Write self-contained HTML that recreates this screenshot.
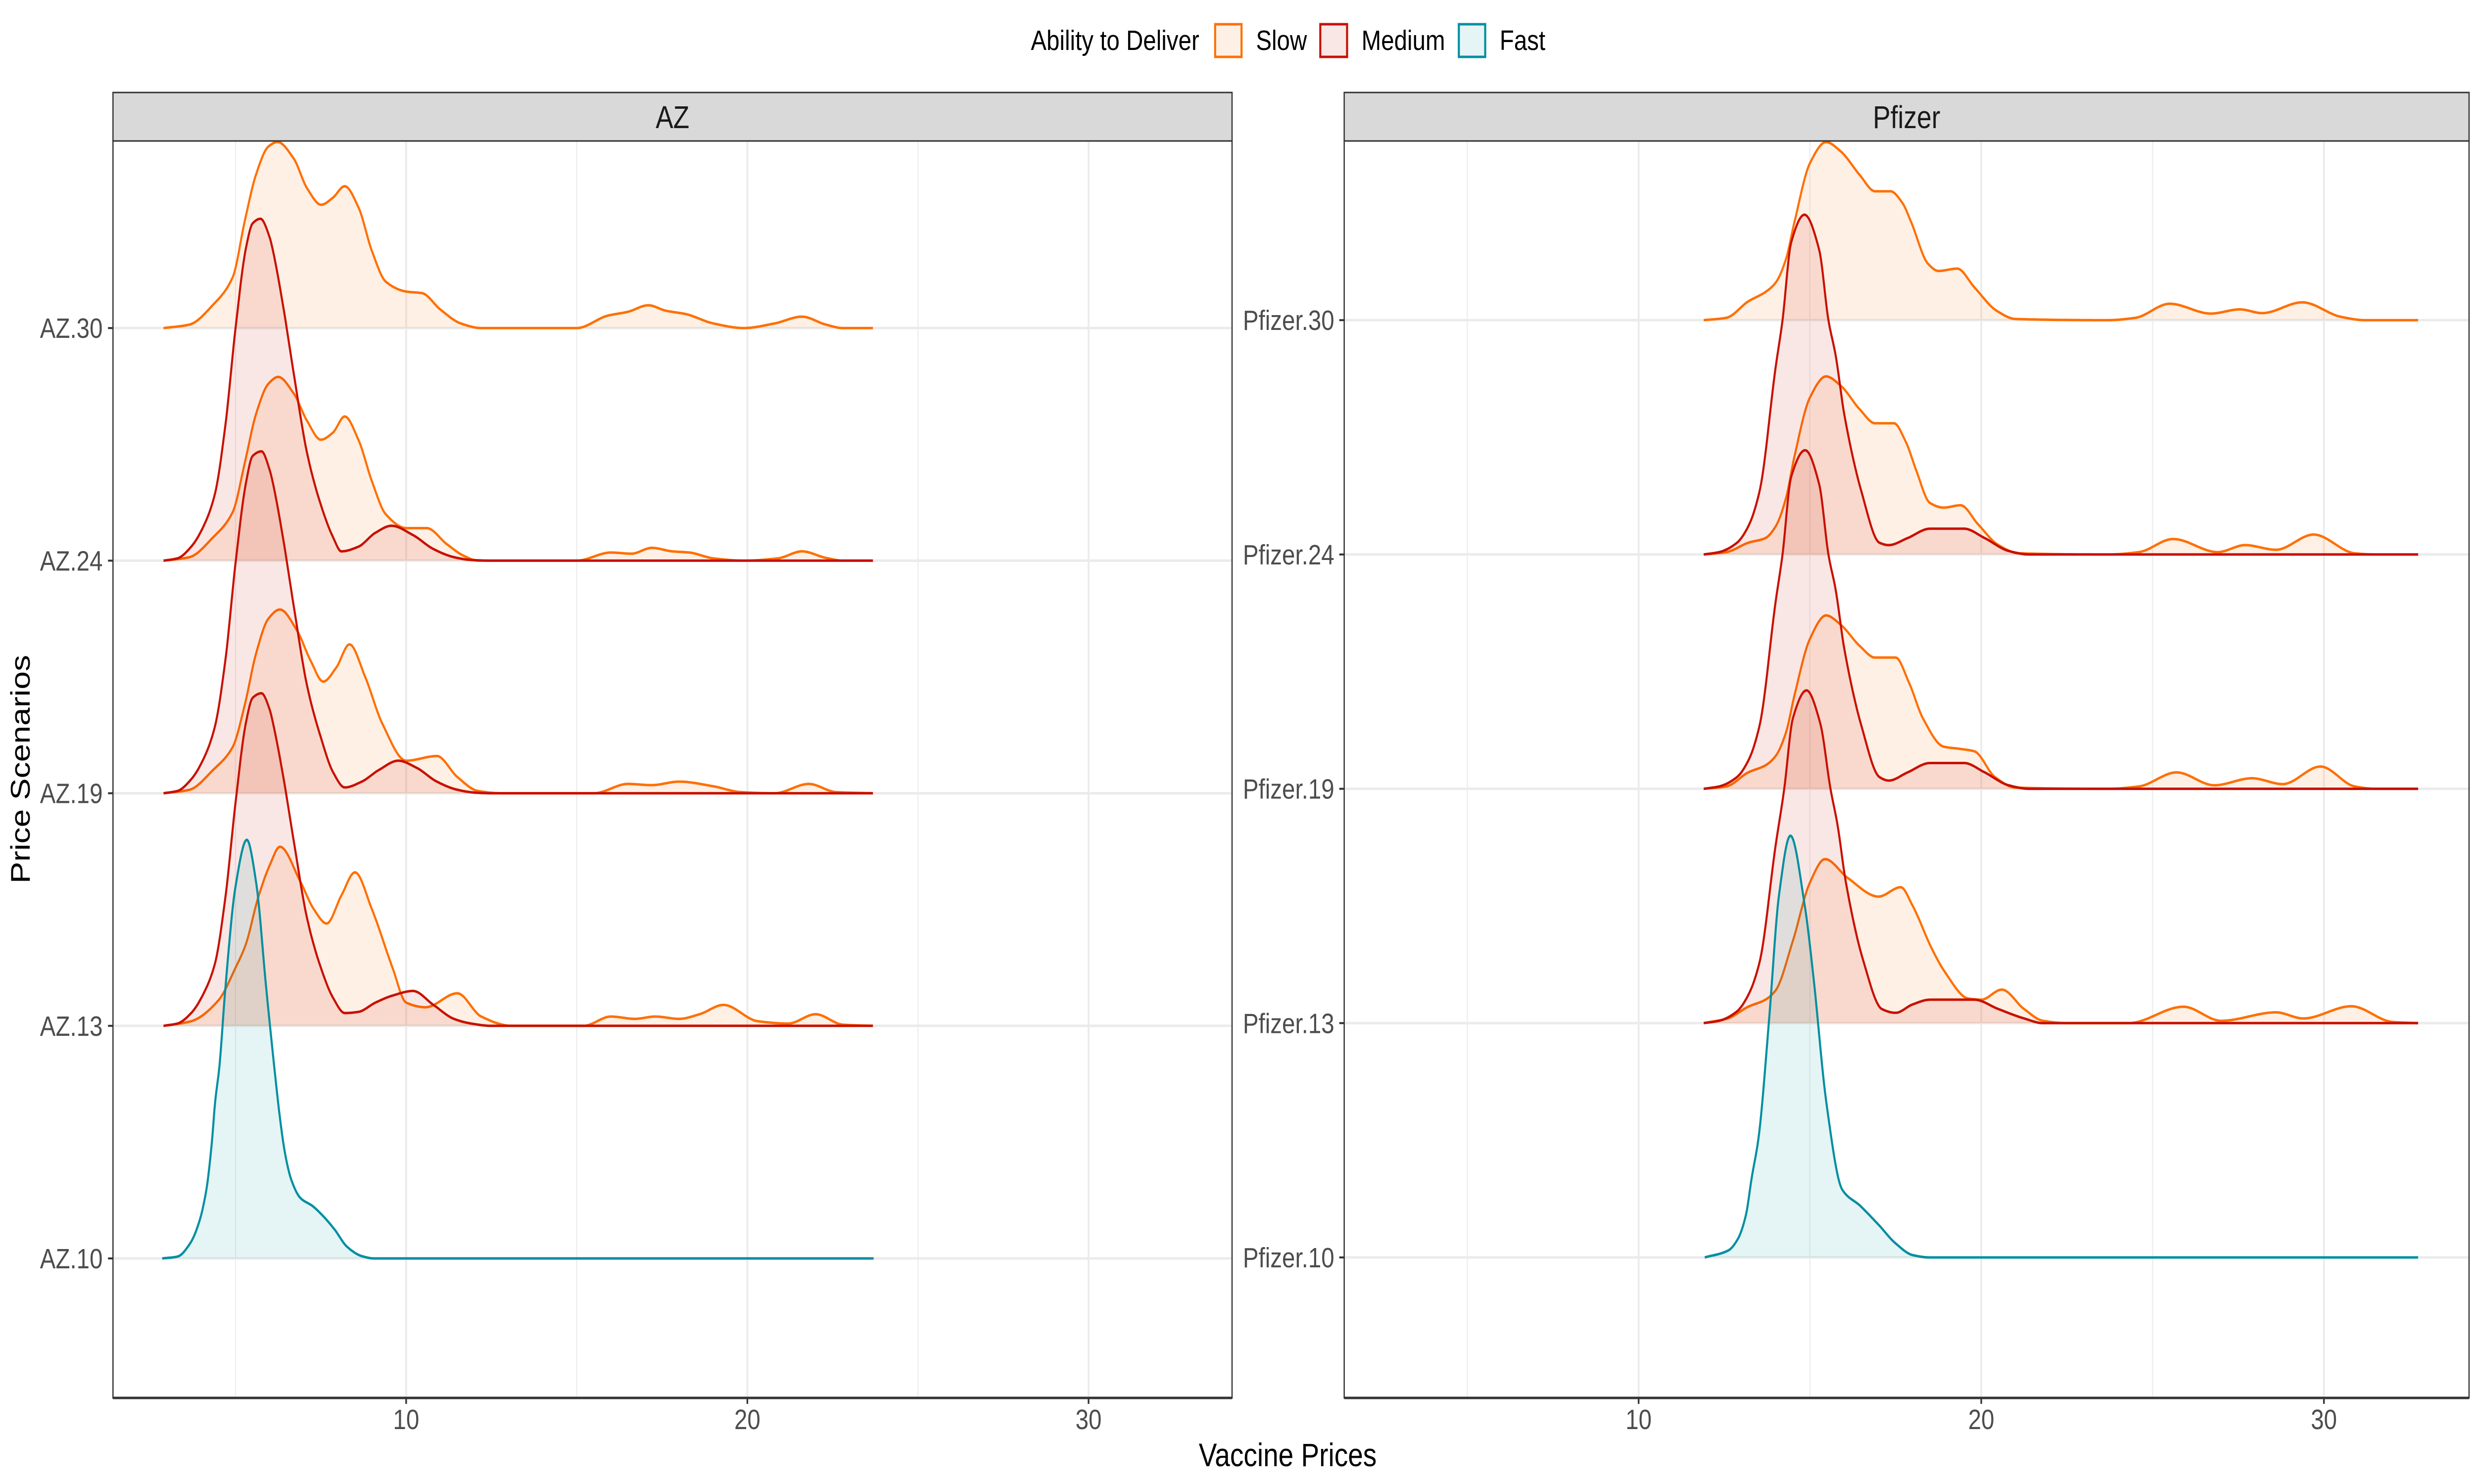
<!DOCTYPE html>
<html>
<head>
<meta charset="utf-8">
<style>
html,body{margin:0;padding:0;background:#fff;width:100%;height:100%;overflow:hidden;}
svg{display:block;font-family:"Liberation Sans",sans-serif;width:100vw;height:100vh;}
</style>
</head>
<body>
<svg id="chart" viewBox="0 0 6000 3000" preserveAspectRatio="none" xmlns="http://www.w3.org/2000/svg">
  <rect x="0" y="0" width="6000" height="3000" fill="#ffffff"/>
  <g id="legend">
    <text x="2500" y="101" font-size="57" fill="#000">Ability to Deliver</text>
    <g>
      <rect x="2947" y="49" width="64" height="66" fill="#FF6F00" fill-opacity="0.1" stroke="#FF6F00" stroke-width="5"/>
      <text x="3046" y="101" font-size="57" fill="#000">Slow</text>
    </g>
    <g>
      <rect x="3202" y="49" width="65" height="66" fill="#C81000" fill-opacity="0.1" stroke="#C81000" stroke-width="5"/>
      <text x="3302" y="101" font-size="57" fill="#000">Medium</text>
    </g>
    <g>
      <rect x="3538" y="49" width="64" height="66" fill="#008FA0" fill-opacity="0.1" stroke="#008FA0" stroke-width="5"/>
      <text x="3637" y="101" font-size="57" fill="#000">Fast</text>
    </g>
  </g>
  <text x="72" y="1555" font-size="66" fill="#000" text-anchor="middle" transform="rotate(-90 72 1555)">Price Scenarios</text>
  <text x="3123" y="2964" font-size="66" fill="#000" text-anchor="middle">Vaccine Prices</text>
  <g id="panels"></g>
</svg>
<script>
// ---------- data ----------
const scenarios = ['10', '13', '19', '24', '30'];
const xTickValues = [10, 20, 30];
const xTickLabels = ['10', '20', '30'];
const xMinorValues = [5, 15, 25];
const panelNames = ['AZ', 'Pfizer'];

// AZ ridges (x = price, d = density in ridge-spacing units)
const azSlow30X = [2.89,3.65,4.34,4.92,5.27,5.6,5.96,6.23,6.7,7.1,7.51,7.85,8.2,8.6,9.0,9.4,10.0,10.47,11.0,11.6,12.2,15.0,15.9,16.5,17.1,17.6,18.2,19.0,19.9,20.8,21.6,22.3,22.8,23.7];
const azSlow30D = [0,0.015,0.1,0.22,0.46,0.66,0.78,0.8,0.73,0.6,0.53,0.56,0.61,0.52,0.33,0.2,0.157,0.15,0.08,0.02,0,0,0.053,0.07,0.098,0.075,0.06,0.02,0,0.02,0.049,0.015,0,0];
const azSlow24X = [2.89,3.65,4.34,4.92,5.27,5.6,5.96,6.25,6.7,7.1,7.5,7.85,8.2,8.6,9.0,9.4,10.0,10.6,11.2,11.7,12.1,15.0,16.0,16.6,17.2,17.8,18.3,19.0,19.9,20.9,21.6,22.3,22.8,23.7];
const azSlow24D = [0,0.015,0.1,0.21,0.42,0.63,0.76,0.79,0.72,0.6,0.52,0.55,0.62,0.52,0.34,0.2,0.14,0.14,0.07,0.02,0,0,0.035,0.03,0.055,0.04,0.035,0.01,0,0.01,0.04,0.012,0,0];
const azSlow19X = [2.89,3.65,4.34,4.92,5.27,5.6,5.96,6.3,6.8,7.2,7.57,7.95,8.34,8.8,9.3,10.0,10.9,11.5,12.1,12.8,15.5,16.5,17.2,18.0,19.0,19.8,20.8,21.8,22.6,23.7];
const azSlow19D = [0,0.015,0.1,0.2,0.38,0.6,0.75,0.79,0.7,0.57,0.48,0.54,0.64,0.5,0.3,0.14,0.16,0.07,0.01,0,0,0.04,0.035,0.05,0.03,0.005,0,0.04,0.005,0];
const azSlow13X = [2.89,3.7,4.5,5.0,5.3,5.66,6.0,6.3,6.9,7.3,7.67,8.1,8.5,9.0,9.6,10.0,10.57,11.5,12.2,13.1,15.2,16.0,16.7,17.3,18.0,18.6,19.3,20.3,21.2,22.0,22.8,23.7];
const azSlow13D = [0,0.02,0.11,0.25,0.35,0.55,0.69,0.77,0.62,0.5,0.44,0.56,0.66,0.5,0.25,0.1,0.08,0.14,0.04,0,0,0.04,0.03,0.04,0.03,0.05,0.09,0.02,0.01,0.05,0.005,0];
const azMed24X = [2.89,3.3,3.7,4.1,4.4,4.7,5.0,5.3,5.5,5.73,6.0,6.1,6.4,6.7,7.1,7.5,7.86,8.1,8.6,9.1,9.57,10.2,10.8,11.4,11.9,12.5,23.7];
const azMed24D = [0,0.01,0.06,0.16,0.29,0.58,1.0,1.34,1.45,1.47,1.39,1.33,1.09,0.81,0.46,0.24,0.1,0.04,0.06,0.12,0.15,0.11,0.05,0.015,0.003,0,0];
const azMed19X = [2.89,3.3,3.7,4.1,4.4,4.7,5.0,5.3,5.5,5.76,6.0,6.1,6.4,6.7,7.1,7.5,7.86,8.2,8.7,9.2,9.77,10.3,10.9,11.5,12.0,12.5,23.7];
const azMed19D = [0,0.01,0.06,0.16,0.29,0.57,0.99,1.33,1.45,1.47,1.39,1.33,1.09,0.81,0.46,0.24,0.09,0.025,0.05,0.1,0.14,0.11,0.05,0.015,0.003,0,0];
const azMed13X = [2.89,3.3,3.7,4.1,4.4,4.7,5.0,5.3,5.5,5.76,6.0,6.1,6.4,6.7,7.1,7.5,7.86,8.2,8.6,9.1,9.6,10.2,10.8,11.4,11.9,12.5,23.7];
const azMed13D = [0,0.01,0.055,0.15,0.27,0.55,0.96,1.3,1.41,1.43,1.36,1.3,1.07,0.8,0.46,0.25,0.12,0.055,0.06,0.1,0.13,0.15,0.09,0.03,0.01,0,0];
const azFast10X = [2.85,3.3,3.67,3.93,4.15,4.3,4.4,4.53,4.7,5.0,5.33,5.6,5.9,6.13,6.28,6.44,6.63,6.9,7.26,7.58,7.9,8.27,8.7,9.06,23.7];
const azFast10D = [0,0.008,0.065,0.155,0.3,0.49,0.67,0.83,1.16,1.6,1.8,1.62,1.16,0.83,0.63,0.46,0.34,0.26,0.225,0.18,0.125,0.05,0.01,0,0];

// Pfizer ridges
const pfSlow30X = [11.9,12.56,13.2,13.7,14.0,14.3,14.55,15.0,15.47,15.9,16.45,16.9,17.35,17.7,17.95,18.45,18.75,19.3,19.8,20.45,21.0,23.7,24.5,25.5,26.7,27.55,28.2,29.37,30.5,31.2,32.75];
const pfSlow30D = [0,0.01,0.08,0.12,0.16,0.26,0.42,0.67,0.76,0.72,0.62,0.55,0.55,0.5,0.42,0.24,0.21,0.22,0.14,0.04,0.005,0,0.01,0.07,0.028,0.046,0.03,0.076,0.014,0,0];
const pfSlow24X = [11.9,12.56,13.2,13.7,14.0,14.3,14.55,15.0,15.47,15.9,16.45,16.9,17.45,17.8,18.1,18.5,18.9,19.4,19.9,20.5,21.1,23.7,24.6,25.6,26.9,27.7,28.6,29.7,30.9,31.5,32.75];
const pfSlow24D = [0,0.01,0.05,0.07,0.12,0.24,0.42,0.67,0.76,0.72,0.62,0.56,0.56,0.48,0.36,0.22,0.2,0.21,0.13,0.04,0.005,0,0.01,0.066,0.01,0.04,0.02,0.085,0.005,0,0];
const pfSlow19X = [11.9,12.56,13.2,13.7,14.0,14.3,14.55,15.0,15.47,15.9,16.45,16.9,17.5,17.9,18.3,18.9,19.4,19.8,20.4,21.0,23.7,24.6,25.7,26.8,27.9,28.8,29.9,30.9,31.5,32.75];
const pfSlow19D = [0,0.01,0.07,0.1,0.14,0.24,0.4,0.64,0.74,0.7,0.61,0.56,0.56,0.45,0.3,0.18,0.17,0.16,0.05,0.005,0,0.01,0.07,0.015,0.045,0.02,0.095,0.01,0,0];
const pfSlow13X = [11.9,12.6,13.2,13.7,14.0,14.5,15.0,15.44,16.1,17.0,17.65,18.0,18.55,18.93,19.62,20.0,20.6,21.25,21.8,22.5,24.3,25.9,27.0,28.6,29.4,30.8,32.0,32.75];
const pfSlow13D = [0,0.02,0.07,0.1,0.14,0.35,0.6,0.7,0.62,0.54,0.58,0.5,0.32,0.22,0.105,0.1,0.143,0.06,0.01,0,0,0.07,0.01,0.046,0.02,0.072,0.005,0];
const pfMed24X = [11.9,12.35,12.87,13.2,13.53,14.0,14.2,14.45,14.84,15.27,15.54,15.75,16.0,16.5,17.03,17.3,17.85,18.5,19.5,20.1,20.8,21.4,32.75];
const pfMed24D = [0,0.01,0.05,0.12,0.27,0.8,1.0,1.33,1.45,1.3,1.0,0.85,0.6,0.27,0.05,0.04,0.07,0.11,0.11,0.07,0.015,0,0];
const pfMed19X = [11.9,12.35,12.87,13.2,13.53,14.0,14.2,14.45,14.86,15.27,15.54,15.75,16.0,16.5,17.03,17.3,17.85,18.5,19.5,20.1,20.8,21.4,32.75];
const pfMed19D = [0,0.01,0.05,0.12,0.27,0.8,1.0,1.33,1.445,1.3,1.0,0.85,0.6,0.27,0.05,0.035,0.07,0.11,0.11,0.07,0.015,0,0];
const pfMed13X = [11.9,12.35,12.87,13.2,13.53,14.0,14.25,14.5,14.9,15.3,15.6,15.8,16.05,16.55,17.1,17.5,18.0,18.5,19.8,20.5,21.25,21.8,32.75];
const pfMed13D = [0,0.01,0.05,0.12,0.26,0.76,1.0,1.3,1.42,1.28,1.0,0.85,0.6,0.27,0.06,0.044,0.08,0.1,0.1,0.06,0.02,0,0];
const pfFast10X = [11.93,12.62,12.9,13.13,13.3,13.5,13.8,14.1,14.43,14.85,15.1,15.48,15.94,16.47,17.0,17.5,18.0,18.5,32.75];
const pfFast10D = [0,0.03,0.08,0.18,0.34,0.51,1.0,1.55,1.8,1.5,1.2,0.66,0.29,0.22,0.14,0.06,0.01,0,0];

const azRidges = [
  {s:'30', g:'slow', x:azSlow30X, d:azSlow30D},
  {s:'24', g:'slow', x:azSlow24X, d:azSlow24D},
  {s:'24', g:'medium', x:azMed24X, d:azMed24D},
  {s:'19', g:'slow', x:azSlow19X, d:azSlow19D},
  {s:'19', g:'medium', x:azMed19X, d:azMed19D},
  {s:'13', g:'slow', x:azSlow13X, d:azSlow13D},
  {s:'13', g:'medium', x:azMed13X, d:azMed13D},
  {s:'10', g:'fast', x:azFast10X, d:azFast10D}
];
const pfRidges = [
  {s:'30', g:'slow', x:pfSlow30X, d:pfSlow30D},
  {s:'24', g:'slow', x:pfSlow24X, d:pfSlow24D},
  {s:'24', g:'medium', x:pfMed24X, d:pfMed24D},
  {s:'19', g:'slow', x:pfSlow19X, d:pfSlow19D},
  {s:'19', g:'medium', x:pfMed19X, d:pfMed19D},
  {s:'13', g:'slow', x:pfSlow13X, d:pfSlow13D},
  {s:'13', g:'medium', x:pfMed13X, d:pfMed13D},
  {s:'10', g:'fast', x:pfFast10X, d:pfFast10D}
];

// ---------- layout ----------
const SVGNS = 'http://www.w3.org/2000/svg';
const groupColors = {slow:'#FF6F00', medium:'#C81000', fast:'#008FA0'};
const panelLayout = [
  {name:'AZ', left:274, right:2988, x0:157.5, k:82.75, base:2544, step:470.2, ridges:azRidges, labelX:249},
  {name:'Pfizer', left:3260, right:5988, x0:3143, k:83.1, base:2542, step:473.7, ridges:pfRidges, labelX:3236}
];
const stripTop = 187, stripBottom = 285, panelBottom = 2826;

function mk(tag, attrs, parent){
  const el = document.createElementNS(SVGNS, tag);
  for (const k in attrs) el.setAttribute(k, attrs[k]);
  parent.appendChild(el);
  return el;
}

// monotone cubic (Fritsch-Carlson) interpolation
function monotone(xs, ys){
  const n = xs.length, dx=[], m=[], t=new Array(n);
  for (let i=0;i<n-1;i++){ dx[i]=xs[i+1]-xs[i]; m[i]=(ys[i+1]-ys[i])/dx[i]; }
  t[0]=m[0]; t[n-1]=m[n-2];
  for (let i=1;i<n-1;i++){
    if (m[i-1]*m[i] <= 0) t[i]=0;
    else { const w1=2*dx[i]+dx[i-1], w2=dx[i]+2*dx[i-1]; t[i]=(w1+w2)/(w1/m[i-1]+w2/m[i]); }
  }
  return function(x){
    let i=0; while (i<n-2 && x>xs[i+1]) i++;
    const h=dx[i], s=(x-xs[i])/h, s2=s*s, s3=s2*s;
    return (2*s3-3*s2+1)*ys[i] + (s3-2*s2+s)*h*t[i] + (-2*s3+3*s2)*ys[i+1] + (s3-s2)*h*t[i+1];
  };
}

const panelRoot = document.getElementById('panels');
panelLayout.forEach(function(p){
  const xs = v => p.x0 + v*p.k;
  const yb = s => p.base - scenarios.indexOf(s)*p.step;
  const g = mk('g', {}, panelRoot);
  
  

  const strip = mk('rect', {x:p.left, y:stripTop, width:p.right-p.left, height:stripBottom-stripTop, fill:'#D9D9D9', stroke:'#333333', 'stroke-width':3}, g);
  
  
  const st = mk('text', {x:(p.left+p.right)/2, y:259, 'font-size':64, 'text-anchor':'middle', fill:'#1A1A1A'}, g);
  st.textContent = p.name;
  
  

  xMinorValues.forEach(function(v){
    const l = mk('line', {x1:xs(v), x2:xs(v), y1:stripBottom, y2:panelBottom, stroke:'#EBEBEB', 'stroke-width':2.5}, g);
    
    
  });
  xTickValues.forEach(function(v){
    const l = mk('line', {x1:xs(v), x2:xs(v), y1:stripBottom, y2:panelBottom, stroke:'#EBEBEB', 'stroke-width':4.5}, g);
    
    
  });
  scenarios.forEach(function(s){
    const l = mk('line', {x1:p.left, x2:p.right, y1:yb(s), y2:yb(s), stroke:'#EBEBEB', 'stroke-width':5}, g);
    
    
  });

  p.ridges.forEach(function(r){
    const f = monotone(r.x, r.d);
    const x0 = r.x[0], x1 = r.x[r.x.length-1];
    const base = yb(r.s);
    const pts = [];
    for (let v=x0; v<=x1+1e-9; v+=0.03){
      const h = Math.max(0, f(Math.min(v,x1)));
      pts.push(xs(v).toFixed(1)+','+(base - h*p.step).toFixed(1));
    }
    const line = pts.join(' ');
    const area = mk('polygon', {points: xs(x0).toFixed(1)+','+base+' '+line+' '+xs(x1).toFixed(1)+','+base, fill:groupColors[r.g], 'fill-opacity':0.1, stroke:'none'}, g);
    
    
    const pl = mk('polyline', {points: line, fill:'none', stroke:groupColors[r.g], 'stroke-width':5, 'stroke-linejoin':'round'}, g);
    
    
  });

  const border = mk('rect', {x:p.left, y:stripBottom, width:p.right-p.left, height:panelBottom-stripBottom, fill:'none', stroke:'#333333', 'stroke-width':3}, g);
  
  
  const axl = mk('line', {x1:p.left, x2:p.right, y1:panelBottom, y2:panelBottom, stroke:'#333333', 'stroke-width':5}, g);
  
  

  scenarios.forEach(function(s){
    const t = mk('line', {x1:p.left-12, x2:p.left, y1:yb(s), y2:yb(s), stroke:'#333333', 'stroke-width':4}, g);
    
    
    const lb = mk('text', {x:p.labelX, y:yb(s)+20, 'font-size':57, 'text-anchor':'end', fill:'#4D4D4D'}, g);
    lb.textContent = p.name + '.' + s;
    
    
  });
  xTickValues.forEach(function(v, i){
    const t = mk('line', {x1:xs(v), x2:xs(v), y1:panelBottom, y2:panelBottom+12, stroke:'#333333', 'stroke-width':4}, g);
    
    
    const lb = mk('text', {x:xs(v), y:2889, 'font-size':57, 'text-anchor':'middle', fill:'#4D4D4D'}, g);
    lb.textContent = xTickLabels[i];
    
    
  });
});
</script>
</body>
</html>
